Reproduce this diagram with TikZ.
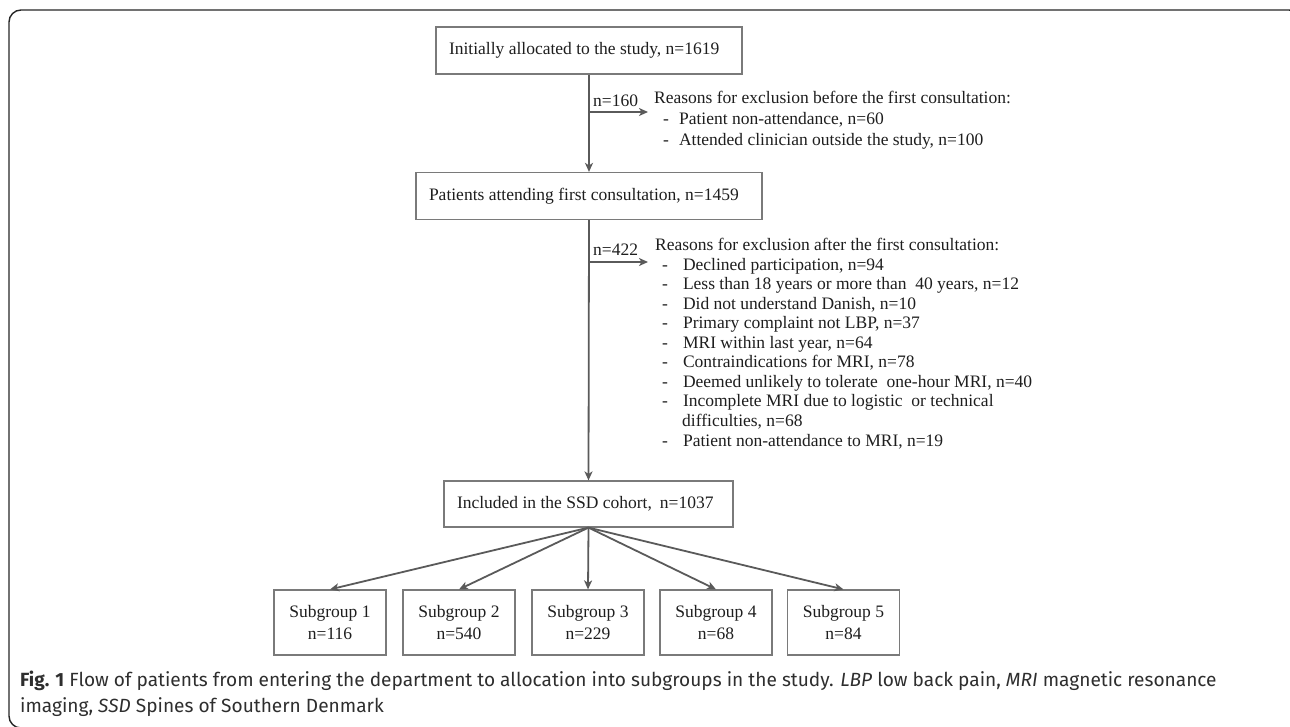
\documentclass[tikz,border=0pt]{standalone}
\usepackage{fontspec}
\setmainfont{Liberation Serif}
\newfontfamily\capfont{Fira Sans}
\usetikzlibrary{arrows.meta}
\definecolor{linegray}{HTML}{5A5A5A}
\definecolor{boxgray}{HTML}{7A7A7A}
\definecolor{txt}{HTML}{1E1E1E}
\definecolor{captxt}{HTML}{2E2E2E}
\begin{document}
\begin{tikzpicture}[x=1pt,y=-1pt,
  every node/.style={font=\fontsize{17.5}{19.6}\selectfont, text=txt},
  mainbox/.style={draw=boxgray, line width=1.2pt, inner xsep=13pt, inner ysep=0pt, minimum height=47pt},
  subbox/.style={draw=boxgray, line width=1.2pt, minimum width=112pt, minimum height=65pt, align=center, inner sep=0pt, font=\fontsize{17.5}{21.5}\selectfont},
  arr/.style={draw=linegray, line width=1.8pt, -{Stealth[length=9pt,width=8pt,inset=2.5pt]}},
  reasons/.style={anchor=north west, align=left, inner sep=0pt},
  lbl/.style={anchor=base west, inner sep=0pt},
  frame/.style={draw=black!85, line width=1.4pt, rounded corners=12pt},
  capstyle/.style={anchor=base west, inner sep=0pt, text=captxt, font=\capfont\fontsize{19.1}{26}\selectfont}
]
\useasboundingbox (0,0) rectangle (1290,726);
\draw[frame] (9,10) rectangle (1301,728);

% main boxes
\node[mainbox] (b1) at (589,50.5) {\makebox[280pt][l]{Initially allocated to the study, n=1619}};
\node[mainbox] (b2) at (589,196) {\makebox[320pt][l]{Patients attending first consultation, n=1459}};
\node[mainbox, minimum height=46pt] (b3) at (588.5,504) {\makebox[263pt][l]{Included in the SSD cohort,\hspace{8pt}n=1037}};

% subgroup boxes
\node[subbox] (s1) at (330,622.5) {Subgroup 1\\n=116};
\node[subbox] (s2) at (459,622.5) {Subgroup 2\\n=540};
\node[subbox] (s3) at (588,622.5) {Subgroup 3\\n=229};
\node[subbox] (s4) at (716,622.5) {Subgroup 4\\n=68};
\node[subbox] (s5) at (843.5,622.5) {Subgroup 5\\n=84};

% vertical arrows
\draw[arr] (b1.south) -- (b2.north);
\draw[arr] (b2.south) -- (b3.north);

% exclusion branches
\coordinate (j1) at (589,112);
\coordinate (e1) at (648,112);
\coordinate (j2) at (589,262);
\coordinate (e2) at (648,262);
\draw[arr] (j1) -- (e1);
\draw[arr] (j2) -- (e2);
\node[lbl] (n1) at (593,106) {n=160};
\node[lbl] (n2) at (593,255) {n=422};

\node[reasons, font=\fontsize{17.5}{20.8}\selectfont] (r1) at (654,91) {%
Reasons for exclusion before the first consultation:\\
\hspace*{9pt}-\hspace*{10pt}Patient non-attendance, n=60\\
\hspace*{9pt}-\hspace*{10pt}Attended clinician outside the study, n=100};

\node[reasons, font=\fontsize{17.5}{19.55}\selectfont] (r2) at (655,238) {%
Reasons for exclusion after the first consultation:\\
\hspace*{7pt}-\hspace*{15pt}Declined participation, n=94\\
\hspace*{7pt}-\hspace*{15pt}Less than 18 years or more than\ \ 40 years, n=12\\
\hspace*{7pt}-\hspace*{15pt}Did not understand Danish, n=10\\
\hspace*{7pt}-\hspace*{15pt}Primary complaint not LBP, n=37\\
\hspace*{7pt}-\hspace*{15pt}MRI within last year, n=64\\
\hspace*{7pt}-\hspace*{15pt}Contraindications for MRI, n=78\\
\hspace*{7pt}-\hspace*{15pt}Deemed unlikely to tolerate\ \ one-hour MRI, n=40\\
\hspace*{7pt}-\hspace*{15pt}Incomplete MRI due to logistic\ \ or technical\\
\hspace*{27pt}difficulties, n=68\\
\hspace*{7pt}-\hspace*{15pt}Patient non-attendance to MRI, n=19};

% subgroup arrows
\foreach \s in {s1,s2,s3,s4,s5} \draw[arr] (b3.south) -- (\s.north);

% caption
\node[capstyle] (cap1) at (20,686) {%
\textbf{Fig. 1} Flow of patients from entering the department to allocation into subgroups in the study. \textit{LBP} low back pain, \textit{MRI} magnetic resonance};
\node[capstyle] (cap2) at (20,712) {imaging, \textit{SSD} Spines of Southern Denmark};
\end{tikzpicture}
\end{document}
